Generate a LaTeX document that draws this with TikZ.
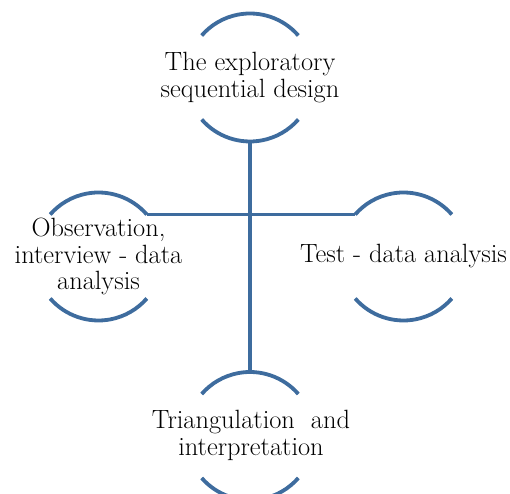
\documentclass[tikz,border=0pt]{standalone}
\definecolor{ringblue}{RGB}{62,108,158}

\begin{document}
\begin{tikzpicture}[x=1bp,y=1bp]
				\useasboundingbox (0,0) rectangle (510,494);
				\tikzstyle{ring} = [circle,minimum size=128bp,inner sep=0pt,outer sep=0pt];
				\tikzstyle{txt} = [align=center,inner sep=0pt,text=black,font=\fontsize{26.5}{27}\selectfont];
				\tikzstyle{cup} = [draw=ringblue,line width=3.8bp];
				\node[ring] (design) at (250,416.5) {};
				\node[ring] (observe) at (98.5,237.5) {};
				\node[ring] (test) at (403.5,237.5) {};
				\node[ring] (triang) at (250,58) {};
				\node[txt] (designtxt) at (design) {The exploratory\\sequential design};
				\node[txt] (observetxt) at (observe) {Observation,\\interview - data\\analysis};
				\node[txt] (testtxt) at (test) {Test - data analysis};
				\node[txt] (triangtxt) at (251,59) {Triangulation~~and\\interpretation};
				\draw[cup] (design.41) arc[start angle=41,end angle=139,radius=64bp];
				\draw[cup] (design.221) arc[start angle=221,end angle=319,radius=64bp];
				\draw[cup] (observe.41) arc[start angle=41,end angle=139,radius=64bp];
				\draw[cup] (observe.221) arc[start angle=221,end angle=319,radius=64bp];
				\draw[cup] (test.41) arc[start angle=41,end angle=139,radius=64bp];
				\draw[cup] (test.221) arc[start angle=221,end angle=319,radius=64bp];
				\draw[cup] (triang.41) arc[start angle=41,end angle=139,radius=64bp];
				\draw[cup] (triang.221) arc[start angle=221,end angle=319,radius=64bp];
				\draw[cup] (design.south) -- (triang.north);
				\draw[cup] (observe.41) -- (test.139);
			\end{tikzpicture}
\end{document}
